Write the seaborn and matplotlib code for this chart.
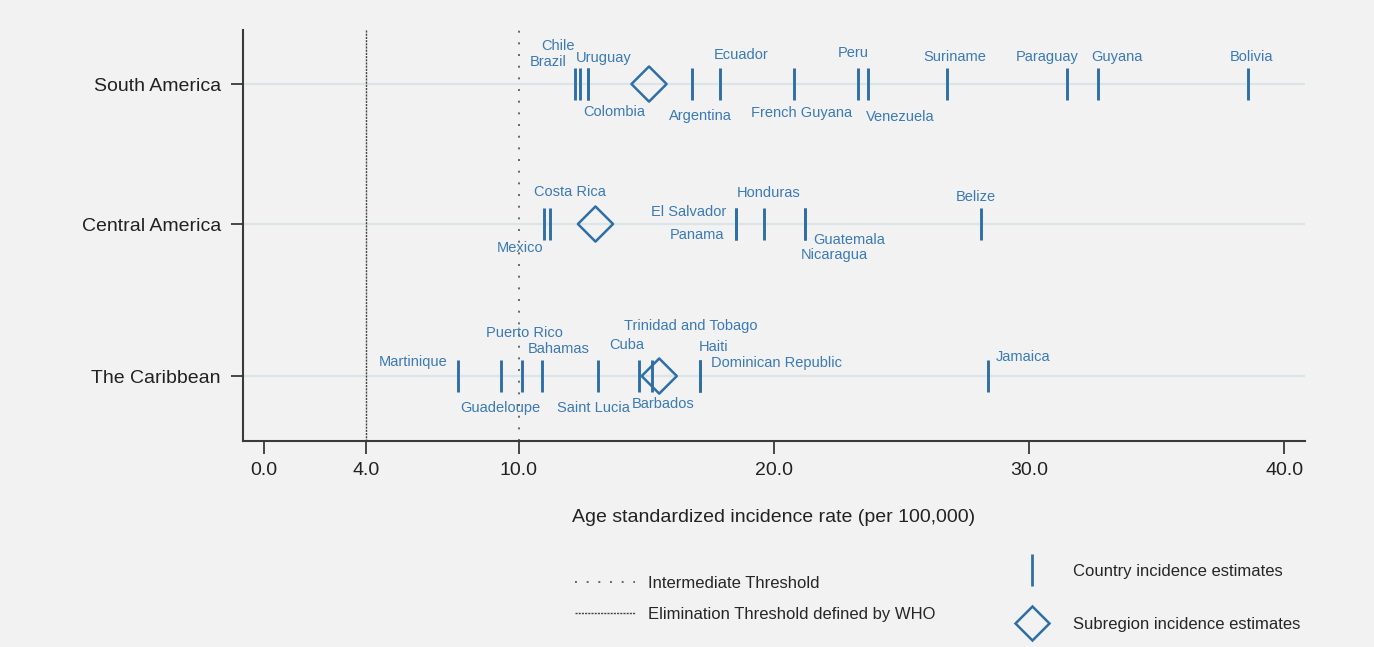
import numpy as np
import pandas as pd
import matplotlib
matplotlib.use("Agg")
import matplotlib.pyplot as plt
from matplotlib.lines import Line2D
import seaborn as sns

# ---------------- data ----------------
regions = ["South America", "Central America", "The Caribbean"]

sa_countries = ["Brazil", "Chile", "Uruguay", "Colombia", "Argentina", "Ecuador",
                "French Guyana", "Peru", "Venezuela", "Suriname", "Paraguay",
                "Guyana", "Bolivia"]
sa_rates = [12.2, 12.4, 12.7, 12.7, 16.8, 17.9, 20.8, 23.3, 23.7, 26.8, 31.5, 32.7, 38.6]

ca_countries = ["Mexico", "Costa Rica", "El Salvador", "Panama", "Honduras",
                "Guatemala", "Nicaragua", "Belize"]
ca_rates = [11.0, 11.2, 18.5, 18.5, 19.6, 21.2, 21.2, 28.1]

car_countries = ["Martinique", "Guadeloupe", "Puerto Rico", "Bahamas", "Saint Lucia",
                 "Cuba", "Barbados", "Trinidad and Tobago", "Haiti",
                 "Dominican Republic", "Jamaica"]
car_rates = [7.6, 9.3, 10.1, 10.9, 13.1, 14.7, 15.2, 17.1, 17.1, 17.1, 28.4]

subregion_rates = [15.1, 13.0, 15.5]

xtick_values = [0.0, 4.0, 10.0, 20.0, 30.0, 40.0]
elimination_threshold = 4.0
intermediate_threshold = 10.0

# ---------------- layout / style ----------------
row_pos = {"South America": 0.0, "Central America": 1.0, "The Caribbean": 2.086}

# label placement: (dx px, dy px, horizontal alignment)
label_place = {
    "Brazil": (-8, 22, "right"), "Chile": (-5, 38, "right"),
    "Uruguay": (-12, 26, "left"), "Colombia": (-5, -28, "left"),
    "Argentina": (8, -32, "center"), "Ecuador": (-7, 29, "left"),
    "French Guyana": (7, -29, "center"), "Peru": (-5, 31, "center"),
    "Venezuela": (-2, -33, "left"), "Suriname": (7, 27, "center"),
    "Paraguay": (11, 27, "right"), "Guyana": (-7, 27, "left"),
    "Bolivia": (3, 27, "center"),
    "Mexico": (-1, -24, "right"), "Costa Rica": (20, 32, "center"),
    "El Salvador": (-9, 12, "right"), "Panama": (-11, -11, "right"),
    "Honduras": (5, 31, "center"), "Guatemala": (9, -16, "left"),
    "Nicaragua": (-4, -31, "left"), "Belize": (-5, 27, "center"),
    "Martinique": (-10, 14, "right"), "Guadeloupe": (-1, -32, "center"),
    "Puerto Rico": (3, 43, "center"), "Bahamas": (-14, 27, "left"),
    "Saint Lucia": (-5, -32, "center"), "Cuba": (-12, 31, "center"),
    "Barbados": (12, -28, "center"), "Trinidad and Tobago": (-9, 50, "center"),
    "Haiti": (-1, 29, "left"), "Dominican Republic": (11, 13, "left"),
    "Jamaica": (8, 19, "left"),
}

bg = "#f2f2f2"
mark_col = "#2f6fa8"
text_col = "#3b7ab4"
axis_col = "#3a3a3a"

df = pd.DataFrame({
    "country": sa_countries + ca_countries + car_countries,
    "rate": sa_rates + ca_rates + car_rates,
    "region": ([regions[0]] * len(sa_countries) + [regions[1]] * len(ca_countries)
               + [regions[2]] * len(car_countries)),
})
df["row"] = df["region"].map(row_pos)

sub = pd.DataFrame({"region": regions, "rate": subregion_rates})
sub["row"] = sub["region"].map(row_pos)

sns.set_theme(style="white")
plt.rcParams["font.family"] = ["Liberation Sans", "DejaVu Sans"]

fig = plt.figure(figsize=(13.74, 6.47), dpi=100, facecolor=bg)
ax = fig.add_axes([243 / 1374, 1 - 441 / 647, (1305 - 243) / 1374, (441 - 30) / 647])
ax.set_facecolor(bg)

# row guide lines
for r in regions:
    ax.axhline(row_pos[r], color="#dbe5e8", lw=1.6, zorder=0)

# thresholds
ax.axvline(elimination_threshold, color="#444444", lw=1.0, ls=(0, (1.5, 0.8)), zorder=1)
ax.axvline(intermediate_threshold, color="#666666", lw=1.4, ls=(0, (1, 5)), zorder=1)

sns.scatterplot(data=df, x="rate", y="row", marker="|", s=530, color=mark_col,
                linewidth=2.1, ax=ax, zorder=3, legend=False)
sns.scatterplot(data=sub, x="rate", y="row", marker="D", s=320, color=mark_col,
                facecolor="none", edgecolor=mark_col, linewidth=1.8, ax=ax,
                zorder=3, legend=False)

for _, rrow in df.iterrows():
    dx, dy, ha = label_place[rrow["country"]]
    ax.annotate(rrow["country"], (rrow["rate"], rrow["row"]), xytext=(dx, dy),
                textcoords="offset pixels", ha=ha, va="center",
                fontsize=10.5, color=text_col, zorder=4)

ax.set_xlim(-0.82, 40.82)
ax.set_ylim(2.55, -0.386)
ax.set_xticks(xtick_values, labels=[f"{v:.1f}" for v in xtick_values])
ax.set_yticks([row_pos[r] for r in regions], labels=regions)
ax.tick_params(axis="x", direction="out", length=9, width=1.3, color=axis_col,
               labelsize=14, pad=6, labelcolor="#222222", bottom=True)
ax.tick_params(axis="y", direction="out", length=9, width=1.3, color=axis_col,
               labelsize=14, pad=7, labelcolor="#222222", left=True)
ax.set_xlabel("Age standardized incidence rate (per 100,000)", fontsize=14,
              labelpad=22, color="#222222")
ax.set_ylabel("")

for s in ["top", "right"]:
    ax.spines[s].set_visible(False)
for s in ["left", "bottom"]:
    ax.spines[s].set_color(axis_col)
    ax.spines[s].set_linewidth(1.5)

# legends
h1 = [Line2D([], [], color="#666666", lw=1.4, ls=(0, (1, 5))),
      Line2D([], [], color="#444444", lw=1.0, ls=(0, (1.5, 0.8)))]
fig.legend(h1, ["Intermediate Threshold", "Elimination Threshold defined by WHO"],
           loc="center left", bbox_to_anchor=(575 / 1374, 1 - 599 / 647),
           frameon=False, fontsize=12, handlelength=3.6, handletextpad=0.8,
           labelspacing=0.95, borderpad=0, borderaxespad=0)

h2 = [Line2D([], [], ls="none", marker="|", ms=23, mew=2.0, color=mark_col),
      Line2D([], [], ls="none", marker="D", ms=17.5, mew=1.8, mfc="none",
             mec=mark_col)]
fig.legend(h2, ["Country incidence estimates", "Subregion incidence estimates"],
           loc="center left", bbox_to_anchor=(1015 / 1374, 1 - 598 / 647),
           frameon=False, fontsize=12, handlelength=2.0, handletextpad=1.46,
           labelspacing=2.3, borderpad=0, borderaxespad=0)

fig.savefig("out.png", dpi=100, facecolor=bg)
